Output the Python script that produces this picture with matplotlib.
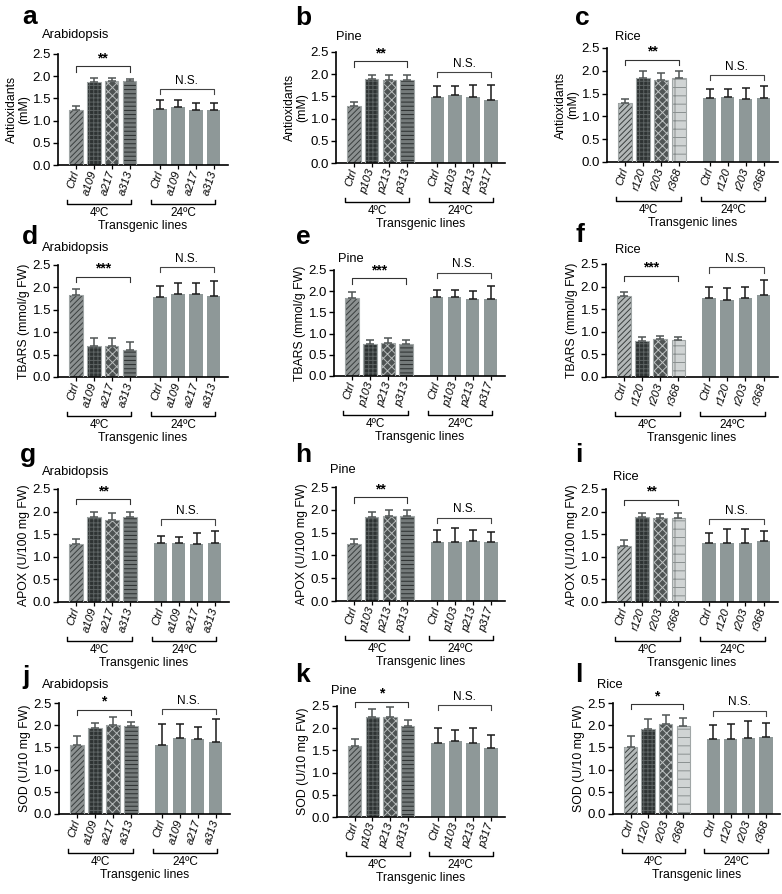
import matplotlib
matplotlib.use('Agg')
import matplotlib.pyplot as plt
from matplotlib.transforms import blended_transform_factory
import numpy as np

plt.rcParams['font.family'] = ['Liberation Sans', 'DejaVu Sans']
plt.rcParams['hatch.linewidth'] = 0.7

W, H = 782, 894

# ---------------- data ----------------
species = ['Arabidopsis', 'Pine', 'Rice']
panel_letters = [['a', 'b', 'c'], ['d', 'e', 'f'], ['g', 'h', 'i'], ['j', 'k', 'l']]
ylabels = ['Antioxidants\n(mM)', 'TBARS (mmol/g FW)', 'APOX (U/100 mg FW)', 'SOD (U/10 mg FW)']
sig_labels = ['**', '***', '**', '*']
ns_label = 'N.S.'
group_labels = ['4ºC', '24ºC']
xlabel_text = 'Transgenic lines'
yticks = [0.0, 0.5, 1.0, 1.5, 2.0, 2.5]

labels_cold = {'Arabidopsis': ['Ctrl', 'a109', 'a217', 'a313'],
               'Pine': ['Ctrl', 'p103', 'p213', 'p313'],
               'Rice': ['Ctrl', 'r120', 'r203', 'r368']}
labels_warm = {'Arabidopsis': ['Ctrl', 'a109', 'a217', 'a313'],
               'Pine': ['Ctrl', 'p103', 'p213', 'p317'],
               'Rice': ['Ctrl', 'r120', 'r203', 'r368']}

# means: 4 bars at 4ºC followed by 4 bars at 24ºC
antiox_arab = [1.23, 1.86, 1.90, 1.89, 1.26, 1.30, 1.24, 1.23]
antiox_arab_err = [0.11, 0.10, 0.05, 0.05, 0.20, 0.16, 0.15, 0.16]
antiox_pine = [1.28, 1.89, 1.87, 1.87, 1.48, 1.53, 1.49, 1.43]
antiox_pine_err = [0.10, 0.10, 0.12, 0.12, 0.25, 0.20, 0.26, 0.33]
antiox_rice = [1.30, 1.85, 1.79, 1.85, 1.40, 1.43, 1.38, 1.40]
antiox_rice_err = [0.09, 0.14, 0.16, 0.14, 0.20, 0.17, 0.24, 0.27]

tbars_arab = [1.83, 0.70, 0.70, 0.61, 1.78, 1.86, 1.86, 1.80]
tbars_arab_err = [0.14, 0.16, 0.16, 0.18, 0.25, 0.24, 0.24, 0.35]
tbars_pine = [1.85, 0.76, 0.79, 0.75, 1.86, 1.86, 1.82, 1.82]
tbars_pine_err = [0.14, 0.10, 0.11, 0.09, 0.17, 0.17, 0.18, 0.30]
tbars_rice = [1.80, 0.79, 0.85, 0.81, 1.74, 1.70, 1.74, 1.81]
tbars_rice_err = [0.09, 0.10, 0.06, 0.07, 0.26, 0.28, 0.26, 0.33]

apox_arab = [1.28, 1.89, 1.82, 1.89, 1.30, 1.30, 1.28, 1.30]
apox_arab_err = [0.11, 0.11, 0.15, 0.11, 0.16, 0.13, 0.25, 0.26]
apox_pine = [1.24, 1.85, 1.87, 1.87, 1.29, 1.29, 1.32, 1.29]
apox_pine_err = [0.12, 0.10, 0.12, 0.12, 0.26, 0.30, 0.24, 0.22]
apox_rice = [1.25, 1.89, 1.85, 1.85, 1.30, 1.31, 1.30, 1.35]
apox_rice_err = [0.12, 0.08, 0.10, 0.13, 0.22, 0.31, 0.31, 0.22]

sod_arab = [1.55, 1.94, 2.01, 1.98, 1.56, 1.72, 1.68, 1.63]
sod_arab_err = [0.20, 0.11, 0.17, 0.09, 0.47, 0.31, 0.28, 0.50]
sod_pine = [1.60, 2.26, 2.26, 2.04, 1.67, 1.71, 1.67, 1.55]
sod_pine_err = [0.15, 0.17, 0.21, 0.14, 0.33, 0.26, 0.33, 0.29]
sod_rice = [1.50, 1.92, 2.02, 1.98, 1.68, 1.69, 1.72, 1.74]
sod_rice_err = [0.25, 0.21, 0.22, 0.19, 0.32, 0.34, 0.37, 0.30]

means = [[antiox_arab, antiox_pine, antiox_rice],
         [tbars_arab, tbars_pine, tbars_rice],
         [apox_arab, apox_pine, apox_rice],
         [sod_arab, sod_pine, sod_rice]]
errs = [[antiox_arab_err, antiox_pine_err, antiox_rice_err],
        [tbars_arab_err, tbars_pine_err, tbars_rice_err],
        [apox_arab_err, apox_pine_err, apox_rice_err],
        [sod_arab_err, sod_pine_err, sod_rice_err]]

# significance bracket heights (data units): [4ºC bracket, 24ºC bracket]
sig_heights = [[(2.22, 1.71), (2.29, 2.05), (2.24, 1.91)],
               [(2.24, 2.46), (2.30, 2.44), (2.24, 2.43)],
               [(2.28, 1.83), (2.27, 1.83), (2.26, 1.84)],
               [(2.35, 2.37), (2.60, 2.52), (2.48, 2.33)]]

# ---------------- layout (pixels) ----------------
# (left, right, y of 0.0, y of 2.5)
layout = [[(58, 228, 165, 54), (336, 505, 163, 52), (607, 778, 162, 48)],
          [(58, 228, 377, 265), (334, 505, 376, 270), (606, 778, 377, 264)],
          [(58, 229, 602, 489), (336, 505, 601, 487), (606, 778, 602, 489)],
          [(59, 230, 814, 703), (337, 505, 817, 706), (613, 780, 814, 703)]]
title_pos = [[(42, 35), (336, 37), (615, 37)],
             [(42, 248), (338, 259), (615, 250)],
             [(42, 472), (330, 470), (613, 477)],
             [(42, 685), (331, 691), (597, 685)]]
letter_pos = [[(22, 17), (295, 18), (575, 18)],
              [(22, 237), (296, 237), (575, 235)],
              [(20, 455), (295, 455), (575, 455)],
              [(22, 677), (295, 675), (575, 675)]]

xpos = [0, 1, 2, 3, 4.7, 5.7, 6.7, 7.7]

warm_color = '#8e9898'


def cold_styles(sp):
    if sp == 'Rice':
        return [('#b3b8b8', '//////', '#3a3f3f'),
                ('#2e3333', '++++', '#5d6363'),
                ('#505555', 'xxxx', '#c0c4c4'),
                ('#d0d4d4', '-|-', '#8a9090')]
    return [('#8c9191', '//////', '#3a3f3f'),
            ('#2e3333', '++++', '#5d6363'),
            ('#4d5252', 'xxxx', '#b8bcbc'),
            ('#747a7a', '----', '#2a2e2e')]


fig = plt.figure(figsize=(W / 100, H / 100), dpi=100)


def fy(py):
    return 1 - py / H


def fx(px):
    return px / W


for r in range(4):
    for c in range(3):
        sp = species[c]
        left, right, y0, yt = layout[r][c]
        ax = fig.add_axes([fx(left), fy(y0), (right - left) / W, (y0 - yt) / H])
        m = means[r][c]
        e = errs[r][c]
        styles = cold_styles(sp)
        for i in range(4):
            fc, hatch, hc = styles[i]
            ax.bar(xpos[i], m[i], width=0.76, color=fc, hatch=hatch, edgecolor=hc,
                   linewidth=0, zorder=2)
            ax.bar(xpos[i], m[i], width=0.76, fill=False, edgecolor='#a0a6a6',
                   linewidth=0.8, zorder=3)
        ax.bar(xpos[4:], m[4:], width=0.76, color=warm_color, linewidth=0, zorder=2)
        ax.errorbar(xpos[:4], m[:4], yerr=[np.zeros(4), e[:4]], fmt='none',
                    ecolor='#505555', elinewidth=1.1, capsize=3, capthick=1.1, zorder=4)
        ax.errorbar(xpos[4:], m[4:], yerr=[np.zeros(4), e[4:]], fmt='none',
                    ecolor='#1a1a1a', elinewidth=1.1, capsize=3, capthick=1.1, zorder=4)

        ax.set_xlim(-1, 8.5)
        ax.set_ylim(0, 2.5)
        ax.set_yticks(yticks)
        ax.set_yticklabels([f'{v:.1f}' for v in yticks], fontsize=9.5)
        ax.set_xticks(xpos)
        ax.set_xticklabels(labels_cold[sp] + labels_warm[sp], rotation=72,
                           ha='right', va='center', rotation_mode='anchor',
                           fontsize=8.2, style='italic')
        ax.tick_params(axis='x', length=3, width=0.9, pad=1.5)
        ax.tick_params(axis='y', length=3.5, width=1.0, pad=1.5)
        for s in ['top', 'right']:
            ax.spines[s].set_visible(False)
        for s in ['left', 'bottom']:
            ax.spines[s].set_linewidth(1.2)
        ax.set_ylabel(ylabels[r], fontsize=8.8, labelpad=2, linespacing=1.0)

        # significance brackets
        h1, h2 = sig_heights[r][c]
        d = 0.12
        ax.plot([xpos[0], xpos[0], xpos[3], xpos[3]], [h1 - d, h1, h1, h1 - d],
                color='#333333', lw=0.8, clip_on=False, zorder=5)
        ax.text((xpos[0] + xpos[3]) / 2, h1 + 0.02, sig_labels[r], ha='center',
                va='bottom', fontsize=10, fontweight='bold')
        ax.plot([xpos[4], xpos[4], xpos[7], xpos[7]], [h2 - d, h2, h2, h2 - d],
                color='#444444', lw=0.8, clip_on=False, zorder=5)
        ax.text((xpos[4] + xpos[7]) / 2, h2 + 0.05, ns_label, ha='center',
                va='bottom', fontsize=8.5)

        # group brackets under the axis
        tr = blended_transform_factory(ax.transData, fig.transFigure)
        yb = fy(y0 + 39)
        tick = 4 / H
        for g, (a0, a1) in enumerate([(xpos[0], xpos[3]), (xpos[4], xpos[7])]):
            a0 = a0 - 0.5
            a1 = a1 + 0.1
            ax.plot([a0, a0, a1, a1], [yb + tick, yb, yb, yb + tick], color='black',
                    lw=1.0, transform=tr, clip_on=False)
            ax.text((a0 + a1) / 2, fy(y0 + 48), group_labels[g], transform=tr,
                    ha='center', va='center', fontsize=8.5)
        ax.text(0.5, fy(y0 + 61), xlabel_text,
                transform=blended_transform_factory(ax.transAxes, fig.transFigure),
                ha='center', va='center', fontsize=8.8)

        tx, ty = title_pos[r][c]
        fig.text(fx(tx), fy(ty), sp, ha='left', va='center', fontsize=9.3)
        lx, ly = letter_pos[r][c]
        fig.text(fx(lx), fy(ly), panel_letters[r][c], ha='left', va='center',
                 fontsize=19, fontweight='bold')

fig.savefig('out.png', dpi=100)
